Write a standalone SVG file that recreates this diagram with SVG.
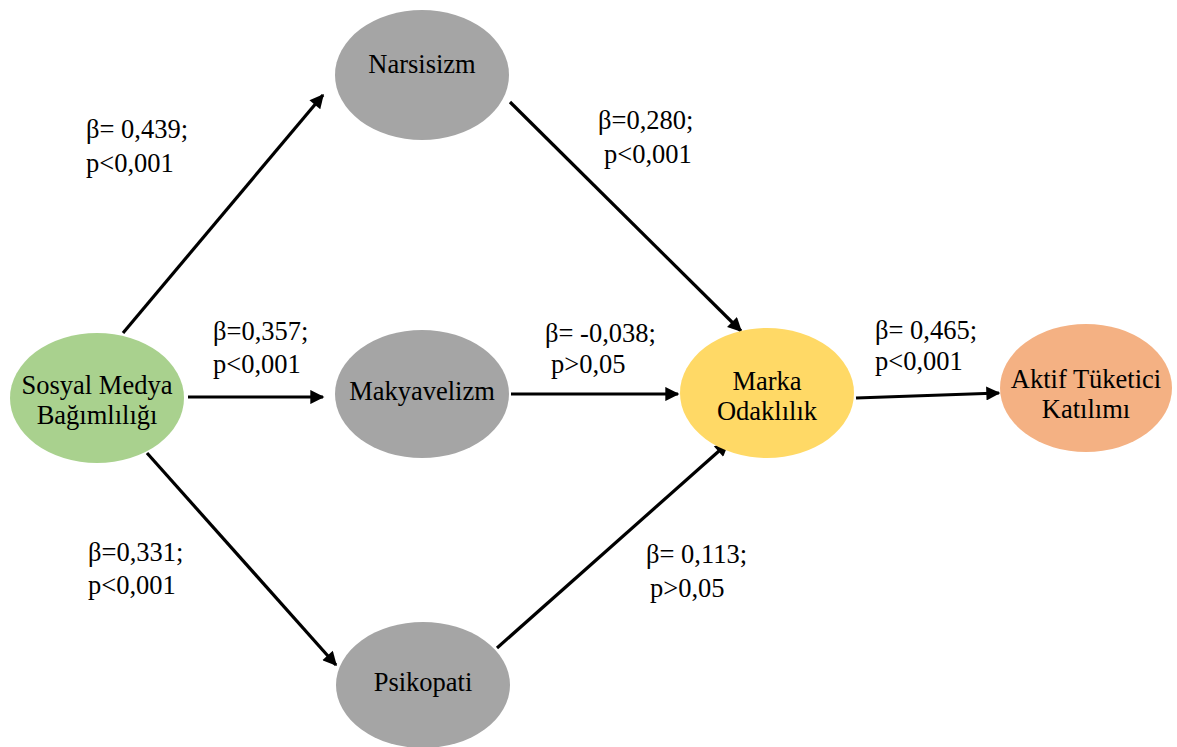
<svg xmlns="http://www.w3.org/2000/svg" width="1177" height="747" viewBox="0 0 1177 747" font-family="'Liberation Serif', 'Times New Roman', serif" font-size="26.5">
<defs>
<marker id="ah" viewBox="0 0 10 10" refX="9" refY="5" markerWidth="5" markerHeight="4.4" markerUnits="strokeWidth" orient="auto">
<path d="M0,0 L10,5 L0,10 Z" fill="#000"/>
</marker>
</defs>
<style>
.c{text-anchor:middle}
.gray{fill:#A5A5A5}
line{stroke:#000;stroke-width:3.2;marker-end:url(#ah)}
</style>
<rect width="1177" height="747" fill="#fff"/>
<g id="connectors">
<line x1="123" y1="333" x2="323" y2="95"/>
<line x1="188" y1="397" x2="323" y2="397"/>
<line x1="147" y1="453" x2="336" y2="665"/>
<line x1="510" y1="102" x2="741" y2="331"/>
<line x1="511" y1="394" x2="678" y2="394"/>
<line x1="497" y1="648" x2="728" y2="443"/>
<line x1="856" y1="398" x2="999" y2="393"/>
</g>
<g id="labels" fill="#000">
<text x="86" y="138">β= 0,439;</text><text x="86" y="172">p&lt;0,001</text>
<text x="213" y="340">β=0,357;</text><text x="213" y="373">p&lt;0,001</text>
<text x="88" y="561">β=0,331;</text><text x="88" y="594">p&lt;0,001</text>
<text x="598" y="129">β=0,280;</text><text x="604" y="163">p&lt;0,001</text>
<text x="545" y="342">β= -0,038;</text><text x="551" y="373">p&gt;0,05</text>
<text x="875" y="339">β= 0,465;</text><text x="875" y="370">p&lt;0,001</text>
<text x="646" y="563">β= 0,113;</text><text x="650" y="597">p&gt;0,05</text>
</g>
<g id="node-sosyal">
<ellipse cx="97" cy="398" rx="87" ry="65" fill="#A9D18E"/>
<text class="c" x="97" y="394">Sosyal Medya</text>
<text class="c" x="97" y="424">Bağımlılığı</text>
</g>
<g id="node-narsisizm">
<ellipse class="gray" cx="422" cy="75" rx="87" ry="65"/>
<text class="c" x="422" y="73">Narsisizm</text>
</g>
<g id="node-makyavelizm">
<ellipse class="gray" cx="422" cy="394" rx="87" ry="64"/>
<text class="c" x="422" y="400">Makyavelizm</text>
</g>
<g id="node-psikopati">
<ellipse class="gray" cx="423" cy="685" rx="87" ry="63"/>
<text class="c" x="423" y="691">Psikopati</text>
</g>
<g id="node-marka">
<ellipse cx="767" cy="393" rx="87" ry="65" fill="#FFD966"/>
<text class="c" x="767" y="390">Marka</text>
<text class="c" x="767" y="420">Odaklılık</text>
</g>
<g id="node-aktif">
<ellipse cx="1086" cy="388" rx="86" ry="64" fill="#F4B183"/>
<text class="c" x="1086" y="388">Aktif Tüketici</text>
<text class="c" x="1086" y="418">Katılımı</text>
</g>
</svg>
